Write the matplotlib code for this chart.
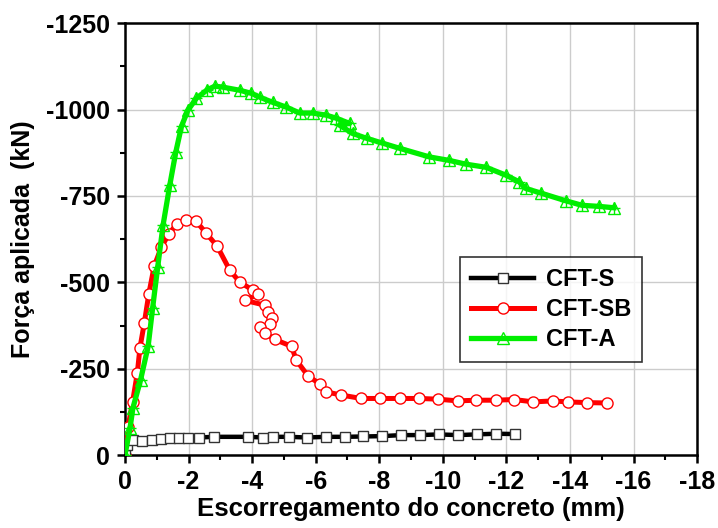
import matplotlib
matplotlib.use("Agg")
import matplotlib.pyplot as plt
from matplotlib.ticker import MultipleLocator

plt.rcParams['font.family'] = ['Liberation Sans Narrow', 'Liberation Sans', 'DejaVu Sans']
plt.rcParams['font.weight'] = 'bold'
plt.rcParams['axes.unicode_minus'] = False

# CFT-S (black, squares)
s_x = [0, -0.05, -0.26, -0.55, -0.84, -1.13, -1.41, -1.70, -1.99, -2.32, -2.80, -3.87, -4.35, -4.66,
       -5.16, -5.72, -6.33, -6.93, -7.50, -8.09, -8.69, -9.28, -9.87, -10.47, -11.06, -11.67, -12.27]
s_y = [0, -30, -43, -41, -45, -48, -50, -50, -51, -51, -53, -53, -51, -53,
       -53, -51, -53, -53, -54, -55, -58, -58, -60, -58, -60, -62, -61]

# CFT-SB (red, circles)
sb_x = [0, -0.10, -0.24, -0.39, -0.47, -0.61, -0.75, -0.92, -1.15, -1.39, -1.64, -1.92, -2.23, -2.54,
        -2.90, -3.30, -3.61, -4.03, -4.19, -3.77, -4.40, -4.50, -4.64, -4.55, -4.24, -4.40, -4.71,
        -5.24, -5.39, -5.76, -6.15, -6.33, -6.80, -7.43, -8.03, -8.64, -9.26, -9.84, -10.47, -11.04,
        -11.67, -12.24, -12.85, -13.45, -13.95, -14.54, -15.15]
sb_y = [0, -82, -154, -238, -309, -383, -466, -547, -603, -641, -670, -680, -678, -644,
        -605, -535, -501, -477, -466, -448, -434, -415, -397, -379, -371, -354, -335,
        -315, -275, -229, -205, -183, -174, -164, -164, -164, -164, -162, -157, -159,
        -159, -161, -154, -157, -154, -152, -151]

# CFT-A (green, triangles)
a_x = [0, -0.16, -0.25, -0.49, -0.73, -0.87, -1.03, -1.20, -1.41, -1.60, -1.78, -1.98, -2.25, -2.57,
       -2.83, -3.08, -3.61, -3.98, -4.24, -4.65, -5.08, -5.50, -5.90, -6.33, -6.65, -7.07, -6.75,
       -7.16, -7.60, -8.10, -8.64, -9.58, -10.20, -10.73, -11.36, -11.99, -12.40, -12.60, -13.10,
       -13.87, -14.38, -14.90, -15.38]
a_y = [0, -78, -136, -217, -315, -425, -544, -666, -781, -877, -952, -998, -1033, -1056,
       -1068, -1065, -1056, -1047, -1036, -1021, -1007, -990, -990, -984, -975, -960, -955,
       -931, -917, -903, -888, -863, -853, -842, -833, -810, -791, -772, -758,
       -736, -723, -720, -716]

fig = plt.figure(figsize=(7.18, 5.28), dpi=100)
ax = fig.add_axes([0.174, 0.138, 0.797, 0.818])

ax.plot(s_x, s_y, color='black', lw=3.2, marker='s', ms=7, mfc='white', mec='#333333', mew=1.0,
        label='CFT-S', zorder=4)
ax.plot(sb_x, sb_y, color='red', lw=3.6, marker='o', ms=8, mfc='white', mec='red', mew=1.0,
        label='CFT-SB', zorder=3)
ax.plot(a_x, a_y, color='#00ee00', lw=3.8, marker='^', ms=8, mfc='none', mec='#00ee00', mew=1.0,
        label='CFT-A', zorder=5)
ax.plot(a_x, a_y, color='none', lw=0, marker='+', ms=9, mec='#00ee00', mew=1.0, zorder=5)

ax.set_xlim(0, -18)
ax.set_ylim(0, -1250)
ax.xaxis.set_major_locator(MultipleLocator(2))
ax.xaxis.set_minor_locator(MultipleLocator(1))
ax.yaxis.set_major_locator(MultipleLocator(250))
ax.yaxis.set_minor_locator(MultipleLocator(125))
ax.grid(True, which='major', color='#cccccc', lw=1.0, zorder=0)
ax.set_axisbelow(True)

for sp in ax.spines.values():
    sp.set_linewidth(1.8)
ax.tick_params(which='major', direction='out', length=6, width=1.8, labelsize=18, pad=5)
ax.tick_params(which='minor', direction='out', length=3.5, width=1.5)
for lab in ax.get_xticklabels() + ax.get_yticklabels():
    lab.set_fontweight('bold')

ax.set_xlabel('Escorregamento do concreto (mm)', fontsize=18.5, fontweight='bold', labelpad=2)
ax.set_ylabel('Força aplicada  (kN)', fontsize=18, fontweight='bold', labelpad=8)

leg = ax.legend(loc='upper left', bbox_to_anchor=(0.565, 0.485), fontsize=17, frameon=True,
                fancybox=False, edgecolor='black', handlelength=2.7, borderpad=0.45,
                labelspacing=0.3, handletextpad=0.5)
leg.get_frame().set_linewidth(1.2)
for t in leg.get_texts():
    t.set_fontweight('bold')

fig.savefig('out.png', dpi=100)
